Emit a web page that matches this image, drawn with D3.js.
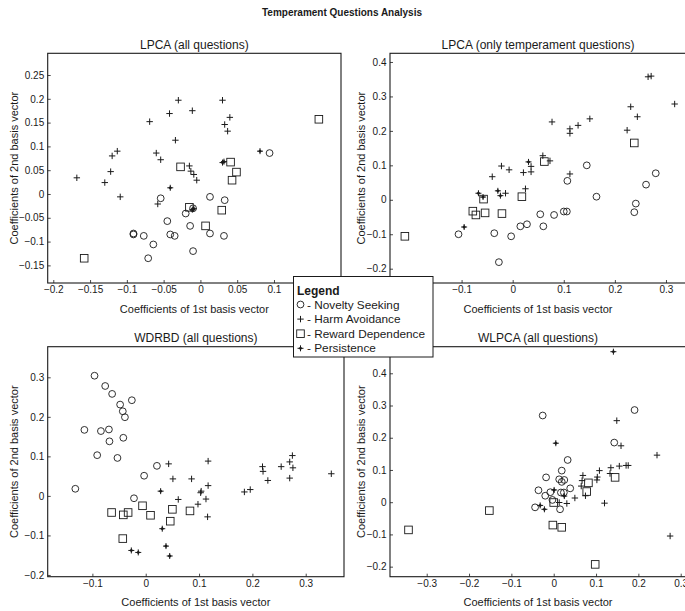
<!DOCTYPE html>
<html>
<head>
<meta charset="utf-8">
<script src="https://cdn.jsdelivr.net/npm/d3@7"></script>
<style>
  html, body { margin: 0; padding: 0; background: #fff; }
  svg { display: block; }
  text { font-family: "Liberation Sans", Arial, sans-serif; fill: #1a1a1a; }
</style>
</head>
<body>
<svg id="chart" width="685" height="611"></svg>
<script>
// ---- Data: [1st basis coefficient, 2nd basis coefficient] per question ----

// LPCA (all questions)
const lpcaAllNovelty = [[-0.054,-0.009],[0.013,-0.006],[0.033,-0.013],[-0.010,-0.030],[-0.020,-0.041],[-0.045,-0.057],[-0.014,-0.067],[-0.091,-0.083],[-0.091,-0.085],[-0.077,-0.088],[-0.041,-0.085],[-0.035,-0.088],[0.013,-0.083],[0.032,-0.088],[-0.064,-0.106],[-0.010,-0.120],[-0.071,-0.135],[0.094,0.086]];
const lpcaAllHarm = [[-0.168,0.034],[-0.130,0.024],[-0.122,0.047],[-0.120,0.080],[-0.113,0.090],[-0.109,-0.006],[-0.069,0.152],[-0.060,0.086],[-0.054,0.072],[-0.058,-0.021],[-0.042,0.169],[-0.030,0.197],[-0.034,0.113],[-0.011,0.175],[-0.015,0.059],[-0.013,0.048],[-0.009,0.041],[-0.005,0.029],[0.030,0.197],[0.040,0.161],[0.033,0.146],[0.037,0.132]];
const lpcaAllReward = [[-0.158,-0.135],[0.161,0.157],[-0.027,0.057],[0.041,0.067],[0.049,0.046],[0.043,0.029],[-0.015,-0.028],[0.029,-0.034],[0.007,-0.067]];
const lpcaAllPersist = [[0.081,0.090],[0.030,0.066],[0.032,0.068],[-0.041,0.013],[-0.009,-0.031],[-0.011,-0.033]];

// LPCA (only temperament questions)
const lpcaTempNovelty = [[-0.106,-0.100],[-0.036,-0.097],[-0.027,-0.181],[-0.003,-0.106],[0.015,-0.077],[0.028,-0.071],[0.054,-0.042],[0.060,-0.077],[0.081,-0.044],[0.100,-0.034],[0.106,-0.034],[0.107,0.055],[0.145,0.100],[0.164,0.009],[0.241,-0.011],[0.238,-0.036],[0.261,0.044],[0.280,0.077]];
const lpcaTempHarm = [[-0.040,0.067],[-0.022,0.098],[-0.007,0.087],[-0.014,0.019],[0.021,0.079],[0.036,0.097],[0.036,0.081],[0.025,0.032],[0.059,0.128],[0.073,0.113],[0.112,0.075],[0.077,0.226],[0.112,0.206],[0.112,0.193],[0.128,0.216],[0.151,0.235],[0.231,0.270],[0.244,0.241],[0.224,0.202],[0.265,0.357],[0.271,0.359],[0.317,0.278]];
const lpcaTempReward = [[-0.211,-0.106],[-0.078,-0.033],[-0.072,-0.044],[-0.054,-0.038],[-0.021,-0.040],[-0.057,0.002],[0.018,0.009],[0.062,0.111],[0.238,0.165]];
const lpcaTempPersist = [[-0.095,-0.079],[-0.067,0.019],[-0.058,0.008],[-0.029,0.026],[-0.024,0.012],[0.031,0.110]];

// WDRBD (all questions)
const wdrbdNovelty = [[-0.096,0.304],[-0.076,0.278],[-0.063,0.258],[-0.026,0.242],[-0.048,0.231],[-0.043,0.214],[-0.039,0.199],[-0.115,0.167],[-0.084,0.164],[-0.069,0.168],[-0.068,0.138],[-0.042,0.147],[-0.091,0.103],[-0.053,0.096],[0.021,0.076],[-0.003,0.051],[-0.132,0.018],[-0.022,-0.006]];
const wdrbdHarm = [[0.043,0.081],[0.051,0.043],[0.086,0.043],[0.117,0.088],[0.117,0.026],[0.061,-0.009],[0.103,0.008],[0.104,0.012],[0.098,-0.021],[0.113,-0.008],[0.116,-0.053],[0.185,0.010],[0.196,0.016],[0.219,0.074],[0.220,0.062],[0.229,0.039],[0.254,0.074],[0.270,0.086],[0.275,0.102],[0.276,0.071],[0.270,0.045],[0.348,0.056]];
const wdrbdReward = [[-0.064,-0.042],[-0.042,-0.048],[-0.033,-0.042],[-0.006,-0.025],[0.009,-0.049],[0.050,-0.034],[0.046,-0.064],[0.083,-0.038],[-0.043,-0.108]];
const wdrbdPersist = [[0.028,0.012],[0.031,-0.083],[0.038,-0.127],[0.045,-0.152],[-0.027,-0.138],[-0.014,-0.143]];

// WLPCA (all questions)
const wlpcaNovelty = [[-0.026,0.269],[0.191,0.286],[0.143,0.185],[0.033,0.131],[0.019,0.098],[-0.018,0.077],[0.013,0.071],[0.025,0.069],[0.019,0.063],[0.039,0.043],[-0.036,0.037],[-0.020,0.020],[-0.008,0.031],[0.017,0.030],[0.024,0.030],[-0.003,0.007],[-0.044,-0.016],[0.015,-0.022]];
const wlpcaHarm = [[0.149,0.253],[0.159,0.175],[0.244,0.146],[0.275,-0.105],[0.120,-0.003],[0.069,0.083],[0.067,0.067],[0.065,0.050],[0.108,0.098],[0.102,0.069],[0.103,0.078],[0.135,0.107],[0.133,0.089],[0.155,0.112],[0.171,0.114],[0.176,0.114],[0.075,0.020],[0.050,0.013],[0.031,-0.004],[0.013,-0.001]];
const wlpcaReward = [[-0.343,-0.086],[-0.152,-0.026],[-0.002,-0.071],[0.019,-0.078],[0.098,-0.193],[0.082,0.060],[0.078,0.033],[0.145,0.077],[0.000,-0.001]];
const wlpcaPersist = [[0.141,0.467],[0.005,0.183],[-0.032,-0.010],[-0.022,-0.022],[0.001,0.038],[0.025,0.019]];

// ---- Tick values and labels ----
const ticksX1 = [-0.2,-0.15,-0.1,-0.05,0,0.05,0.1];
const ticksY1 = [-0.15,-0.1,-0.05,0,0.05,0.1,0.15,0.2,0.25];
const ticksX2 = [-0.1,0,0.1,0.2,0.3];
const ticksY2 = [-0.2,-0.1,0,0.1,0.2,0.3,0.4];
const ticksX3 = [-0.1,0,0.1,0.2,0.3];
const ticksY3 = [-0.2,-0.1,0,0.1,0.2,0.3];
const ticksX4 = [-0.3,-0.2,-0.1,0,0.1,0.2,0.3];
const ticksY4 = [-0.2,-0.1,0,0.1,0.2,0.3,0.4];

const groupNames = ["Novelty Seeking","Harm Avoidance","Reward Dependence","Persistence"];
const groupMarkers = ["circle","plus","square","persist"];

const tickLabel = v => v === 0 ? "0" : (v < 0 ? "\u2212" : "") + String(Math.abs(+v.toFixed(2)));

// ---- Panel layout ----
const panels = [
  { title: "LPCA (all questions)", left: 47.7, right: 341, top: 53.3, bottom: 283,
    xDom: [-0.2076, 0.1911], yDom: [-0.187, 0.2956], xt: ticksX1, yt: ticksY1, ylabOff: 34,
    series: [lpcaAllNovelty, lpcaAllHarm, lpcaAllReward, lpcaAllPersist] },
  { title: "LPCA (only temperament questions)", left: 390, right: 686, top: 53.3, bottom: 283,
    xDom: [-0.2401, 0.3392], yDom: [-0.2415, 0.4252], xt: ticksX2, yt: ticksY2, ylabOff: 29,
    series: [lpcaTempNovelty, lpcaTempHarm, lpcaTempReward, lpcaTempPersist] },
  { title: "WDRBD (all questions)", left: 47.7, right: 344, top: 346.7, bottom: 576.7,
    xDom: [-0.1838, 0.3718], yDom: [-0.2044, 0.3774], xt: ticksX3, yt: ticksY3, ylabOff: 34,
    series: [wdrbdNovelty, wdrbdHarm, wdrbdReward, wdrbdPersist] },
  { title: "WLPCA (all questions)", left: 390, right: 686, top: 346.7, bottom: 576.7,
    xDom: [-0.3867, 0.3125], yDom: [-0.2312, 0.4825], xt: ticksX4, yt: ticksY4, ylabOff: 29,
    series: [wlpcaNovelty, wlpcaHarm, wlpcaReward, wlpcaPersist] }
];

const svg = d3.select("#chart");
const ink = "#1a1a1a";

function drawMarker(g, kind, x, y) {
  if (kind === "circle") {
    g.append("circle").attr("cx", x).attr("cy", y).attr("r", 3.4)
      .attr("fill", "none").attr("stroke", ink).attr("stroke-width", 0.9);
  } else if (kind === "plus") {
    g.append("path").attr("d", `M${x-3.2},${y}H${x+3.2}M${x},${y-3.2}V${y+3.2}`)
      .attr("stroke", ink).attr("stroke-width", 1);
  } else if (kind === "square") {
    g.append("rect").attr("x", x-3.8).attr("y", y-3.8).attr("width", 7.6).attr("height", 7.6)
      .attr("fill", "none").attr("stroke", ink).attr("stroke-width", 0.9);
  } else {
    g.append("path").attr("d", `M${x-3},${y}H${x+3}M${x},${y-3}V${y+3}`)
      .attr("stroke", ink).attr("stroke-width", 1);
    g.append("path").attr("d", `M${x},${y-1.9}L${x+1.9},${y}L${x},${y+1.9}L${x-1.9},${y}Z`)
      .attr("fill", ink);
  }
}

svg.append("text").attr("x", 342).attr("y", 16).attr("text-anchor", "middle")
  .attr("font-size", 10).attr("font-weight", "bold").text("Temperament Questions Analysis");

panels.forEach((p, i) => {
  const g = svg.append("g");
  const x = d3.scaleLinear().domain(p.xDom).range([p.left, p.right]);
  const y = d3.scaleLinear().domain(p.yDom).range([p.bottom, p.top]);

  const clipId = "clip" + i;
  svg.append("clipPath").attr("id", clipId).append("rect")
    .attr("x", p.left).attr("y", p.top).attr("width", p.right - p.left).attr("height", p.bottom - p.top);

  // axes with inward ticks
  const xAxis = d3.axisBottom(x).tickValues(p.xt).tickSize(-3).tickPadding(6).tickFormat(tickLabel);
  const yAxis = d3.axisLeft(y).tickValues(p.yt).tickSize(-3).tickPadding(6).tickFormat(tickLabel);
  const gx = g.append("g").attr("transform", `translate(0,${p.bottom})`).call(xAxis);
  const gy = g.append("g").attr("transform", `translate(${p.left},0)`).call(yAxis);
  [gx, gy].forEach(a => {
    a.select(".domain").remove();
    a.selectAll("line").attr("stroke", ink).attr("stroke-width", 0.8);
    a.selectAll("text").attr("font-size", 10).attr("font-family", "Liberation Sans, Arial, sans-serif").attr("fill", ink);
  });
  gx.selectAll("text").attr("dy", "0.71em").attr("y", 3);
  gy.selectAll("text").attr("x", -3.5);

  // frame
  g.append("rect").attr("x", p.left).attr("y", p.top)
    .attr("width", p.right - p.left).attr("height", p.bottom - p.top)
    .attr("fill", "none").attr("stroke", ink).attr("stroke-width", 1.1);

  // markers
  const mg = g.append("g").attr("clip-path", `url(#${clipId})`);
  p.series.forEach((pts, s) => {
    pts.forEach(d => drawMarker(mg, groupMarkers[s], x(d[0]), y(d[1])));
  });

  // titles and axis labels
  const cx = (p.left + p.right) / 2;
  g.append("text").attr("x", cx).attr("y", p.top - 4.5).attr("text-anchor", "middle")
    .attr("font-size", 12).text(p.title);
  g.append("text").attr("x", cx).attr("y", p.bottom + 29.5).attr("text-anchor", "middle")
    .attr("font-size", 11).text("Coefficients of 1st basis vector");
  const cy = (p.top + p.bottom) / 2;
  g.append("text").attr("transform", `translate(${p.left - p.ylabOff},${cy}) rotate(-90)`)
    .attr("text-anchor", "middle").attr("dy", "0.35em")
    .attr("font-size", 11).text("Coefficients of 2nd basis vector");
});

// legend
const lg = svg.append("g");
lg.append("rect").attr("x", 293.5).attr("y", 276.5).attr("width", 139.5).attr("height", 80.5)
  .attr("fill", "#fff").attr("stroke", ink).attr("stroke-width", 1);
lg.append("text").attr("x", 297).attr("y", 295).attr("font-size", 12).attr("font-weight", "bold").text("Legend");
groupNames.forEach((name, k) => {
  const yy = 304.5 + k * 14.6;
  drawMarker(lg, groupMarkers[k], 300.5, yy);
  lg.append("text").attr("x", 307).attr("y", yy).attr("dy", "0.35em").attr("font-size", 11.8)
    .text("- " + name);
});
</script>
</body>
</html>
